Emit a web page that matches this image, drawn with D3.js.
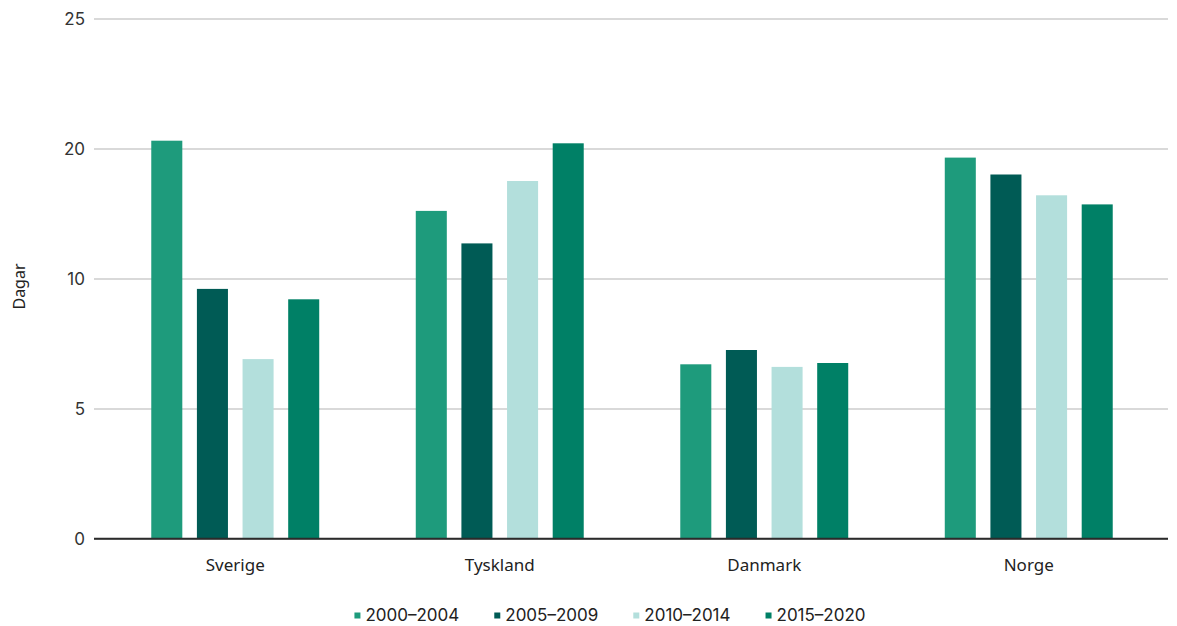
<!DOCTYPE html>
<html>
<head>
<meta charset="utf-8">
<script src="https://cdn.jsdelivr.net/npm/d3@7"></script>
<style>
  html, body { margin: 0; padding: 0; background: #fff; }
  svg { display: block; }
  .tick-label { font-family: "Inter", "Lato", sans-serif; font-size: 17px; fill: #333; }
  .cat-label { font-family: "Noto Sans", "Open Sans", sans-serif; font-size: 17px; fill: #222; }
  .legend-label { font-family: "Inter", "Lato", sans-serif; font-size: 17px; fill: #222; }
</style>
</head>
<body>
<svg id="chart" width="1177" height="626"></svg>
<script>
// Countries and reporting periods
const countries = ["Sverige", "Tyskland", "Danmark", "Norge"];
const periods = ["2000–2004", "2005–2009", "2010–2014", "2015–2020"];

// Average number of days per period, one array per period (same order as countries)
const days2000_2004 = [20.3, 15.2, 6.7, 19.3];
const days2005_2009 = [9.6, 12.7, 7.25, 18.0];
const days2010_2014 = [6.9, 17.5, 6.6, 16.4];
const days2015_2020 = [9.2, 20.2, 6.75, 15.7];

// Y-axis tick values (the axis is drawn piecewise: 10 to 20 occupies one tick step)
const yTicks = [0, 5, 10, 20, 25];
const yTickLabels = ["0", "5", "10", "20", "25"];

const axisTitle = "Dagar";

const seriesValues = [days2000_2004, days2005_2009, days2010_2014, days2015_2020];
const colors = ["#1e9b7c", "#005b55", "#b3dfdc", "#008066"];

const svg = d3.select("#chart");

const plot = { left: 94, right: 1168, top: 18.5, bottom: 538.5 };

// Polylinear scale: each labelled tick is evenly spaced
const yStep = (plot.bottom - plot.top) / (yTicks.length - 1);
const y = d3.scaleLinear()
  .domain(yTicks)
  .range(yTicks.map((d, i) => plot.bottom - i * yStep));

const x0 = d3.scaleBand()
  .domain(countries)
  .range([103, 1161])
  .paddingInner(0.365)
  .paddingOuter(0.1825);

const x1 = d3.scaleBand()
  .domain(periods)
  .range([0, x0.bandwidth()])
  .paddingInner(0.32)
  .paddingOuter(0);

// Gridlines and tick labels
const yAxis = d3.axisLeft(y)
  .tickValues(yTicks)
  .tickFormat((d, i) => yTickLabels[i])
  .tickSize(-(plot.right - plot.left))
  .tickPadding(9);

const yG = svg.append("g")
  .attr("transform", `translate(${plot.left},0)`)
  .call(yAxis);
yG.select(".domain").remove();
yG.selectAll(".tick line")
  .attr("stroke", d => d === 0 ? "#2b2b2b" : "#cccccc")
  .attr("stroke-width", 1.5);
yG.selectAll(".tick text")
  .attr("class", "tick-label")
  .attr("dy", "0.35em");

// Bars
const rows = countries.map((c, ci) => ({
  country: c,
  values: periods.map((p, pi) => ({ period: p, value: seriesValues[pi][ci], color: colors[pi] }))
}));

const groups = svg.append("g")
  .selectAll("g")
  .data(rows)
  .join("g")
  .attr("transform", d => `translate(${x0(d.country)},0)`);

groups.selectAll("rect")
  .data(d => d.values)
  .join("rect")
  .attr("x", d => x1(d.period))
  .attr("width", x1.bandwidth())
  .attr("y", d => y(d.value))
  .attr("height", d => y(0) - y(d.value))
  .attr("fill", d => d.color);

// Baseline over the bars
svg.append("line")
  .attr("x1", plot.left).attr("x2", plot.right)
  .attr("y1", y(0)).attr("y2", y(0))
  .attr("stroke", "#2b2b2b").attr("stroke-width", 1.5);

// Category labels
const xAxis = d3.axisBottom(x0).tickSize(0).tickPadding(20);
const xG = svg.append("g")
  .attr("transform", `translate(0,${plot.bottom})`)
  .call(xAxis);
xG.select(".domain").remove();
xG.selectAll(".tick text")
  .attr("class", "cat-label")
  .attr("dy", "0.71em");

// Y-axis title
svg.append("text")
  .attr("class", "cat-label")
  .attr("transform", `translate(25,${(plot.top + plot.bottom) / 2 + 8}) rotate(-90)`)
  .attr("text-anchor", "middle")
  .style("font-size", "16px")
  .text(axisTitle);

// Legend
const legend = svg.append("g");
const legendY = 615.5;
const swatch = 6, swatchGap = 5, itemGap = 35;
const items = legend.selectAll("g")
  .data(periods)
  .join("g");
items.append("rect")
  .attr("width", swatch).attr("height", swatch)
  .attr("y", legendY - swatch / 2)
  .attr("fill", (d, i) => colors[i]);
items.append("text")
  .attr("class", "legend-label")
  .attr("x", swatch + swatchGap)
  .attr("y", legendY)
  .attr("dy", "0.35em")
  .text(d => d);

let cursor = 0;
const offsets = [];
items.each(function() {
  offsets.push(cursor);
  const w = swatch + swatchGap + d3.select(this).select("text").node().getComputedTextLength();
  cursor += w + itemGap;
});
const totalW = cursor - itemGap;
const startX = 610 - totalW / 2;
items.attr("transform", (d, i) => `translate(${startX + offsets[i]},0)`);
</script>
</body>
</html>
